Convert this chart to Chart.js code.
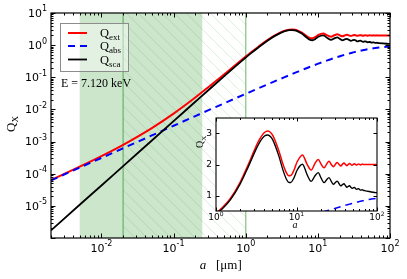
<!DOCTYPE html>
<html>
<head>
<meta charset="utf-8">
<script src="https://cdn.jsdelivr.net/npm/chart.js@4.4.0/dist/chart.umd.min.js"></script>
<style>
body { margin: 0; background: #fff; }
#wrap { position: relative; width: 407px; height: 279px; }
#main { position: absolute; left: 0; top: 0; }
#inset { position: absolute; left: 190px; top: 108px; }
</style>
</head>
<body>
<div id="wrap">
<canvas id="main" width="407" height="279"></canvas>
<canvas id="inset" width="200" height="125"></canvas>
</div>
<script>
// grain radius a [um]
var aSize = [0.002, 0.005, 0.01, 0.02, 0.05, 0.1, 0.2, 0.3, 0.5, 0.7,
  1, 1.2, 1.5, 2, 2.5, 3, 3.4, 4, 4.4, 4.8, 5.09, 6, 6.78, 7.5, 8, 8.47, 9.3,
  10.16, 11.85, 13.54, 15.23, 16.92, 18.61, 20.3, 21.98, 23.67, 25.36, 27.05,
  28.74, 30.43, 32.12, 33.81, 35.5, 37.19, 38.88, 40.56, 42.25, 43.94, 45.63,
  47.32, 49.01, 50.7, 52.39, 54.08, 55.77, 57.46, 59.14, 60.83, 62.52, 64.21,
  65.9, 67.6, 70, 80, 90, 100];

var qExt = [6.37e-5, 1.66e-4, 3.53e-4, 7.93e-4, 2.63e-3, 7.42e-3, 0.0235, 0.0482, 0.122, 0.229,
  0.44, 0.61, 0.895, 1.435, 1.981, 2.463, 2.767, 3.032, 3.078, 3.025, 2.932, 2.462, 2.015,
  1.729, 1.641, 1.646, 1.815, 2.080, 2.309, 2.007, 1.821, 2.027, 2.164, 2.004, 1.892, 2.013,
  2.101, 2.003, 1.929, 2.008, 2.068, 2.002, 1.951, 2.005, 2.048, 2.002, 1.965, 2.003, 2.035,
  2.001, 1.974, 2.002, 2.026, 2.001, 1.980, 2.001, 2.020, 2.001, 1.985, 2.001, 2.015, 2.001,
  2.0, 2.0, 2.0, 2.0];

var qAbs = [6.2e-5, 1.55e-4, 3.1e-4, 6.2e-4, 1.55e-3, 3.1e-3, 6.2e-3, 9.3e-3, 0.0154, 0.0215,
  0.0305, 0.0364, 0.0453, 0.0599, 0.0742, 0.0883, 0.0995, 0.1158, 0.1265, 0.1371, 0.1446,
  0.168, 0.1874, 0.2047, 0.217, 0.2276, 0.2464, 0.2655, 0.301, 0.335, 0.367, 0.398, 0.426,
  0.453, 0.479, 0.503, 0.526, 0.547, 0.568, 0.587, 0.606, 0.623, 0.639, 0.655, 0.670, 0.684,
  0.697, 0.710, 0.722, 0.733, 0.744, 0.755, 0.764, 0.774, 0.783, 0.791, 0.799, 0.807, 0.814,
  0.821, 0.828, 0.834, 0.842, 0.872, 0.895, 0.912];

var qSca = [1.72e-6, 1.08e-5, 4.3e-5, 1.73e-4, 1.08e-3, 4.32e-3, 0.0173, 0.0389, 0.107, 0.207,
  0.41, 0.575, 0.85, 1.375, 1.907, 2.375, 2.668, 2.916, 2.951, 2.888, 2.787, 2.294, 1.827,
  1.524, 1.424, 1.418, 1.569, 1.815, 2.008, 1.672, 1.454, 1.630, 1.737, 1.551, 1.413, 1.510,
  1.576, 1.456, 1.361, 1.421, 1.463, 1.379, 1.311, 1.350, 1.378, 1.318, 1.267, 1.293, 1.313,
  1.268, 1.230, 1.247, 1.262, 1.227, 1.197, 1.210, 1.221, 1.194, 1.171, 1.180, 1.187, 1.167,
  1.158, 1.128, 1.105, 1.088];

var seriesSub = ['ext', 'abs', 'sca'];
var energyText = 'E = 7.120 keV';

// shaded band, hatched band and marker lines (in um)
var greenBand = [0.005, 0.25];
var hatchBand = [0.02, 1];
var markLines = [0.02, 1];

// tick labels
var mainXExp = [-2, -1, 0, 1, 2];
var mainYExp = [-5, -4, -3, -2, -1, 0, 1];
var insetXExp = [0, 1, 2];
var insetYTicks = [1, 2, 3];

var SERIF = '"Liberation Serif", "DejaVu Serif", serif';
var SANS = '"DejaVu Sans", sans-serif';

function pts(arr) {
  return aSize.map(function (a, i) { return { x: a, y: arr[i] }; });
}

function makeSets(w) {
  var base = { pointRadius: 0, fill: false, cubicInterpolationMode: 'monotone' };
  return [
    Object.assign({ label: 'ext', data: pts(qExt), borderColor: '#ff0000', borderWidth: w, order: 3 }, base),
    Object.assign({ label: 'abs', data: pts(qAbs), borderColor: '#0000ff', borderWidth: w, borderDash: [7, 5], order: 2 }, base),
    Object.assign({ label: 'sca', data: pts(qSca), borderColor: '#000000', borderWidth: w * 0.9, order: 1 }, base)
  ];
}

function powLabel(ctx, x, y, e, size, align) {
  var sup = String(e);
  ctx.font = size + 'px ' + SANS;
  var w1 = ctx.measureText('10').width;
  var ss = Math.round(size * 0.7);
  ctx.font = ss + 'px ' + SANS;
  var w2 = ctx.measureText(sup).width;
  var x0 = align === 'right' ? x - w1 - w2 : x - (w1 + w2) / 2;
  ctx.fillStyle = '#000';
  ctx.textAlign = 'left';
  ctx.textBaseline = 'middle';
  ctx.font = size + 'px ' + SANS;
  ctx.fillText('10', x0, y);
  ctx.font = ss + 'px ' + SANS;
  ctx.fillText(sup, x0 + w1, y - size * 0.42);
}

function subText(ctx, x, y, main, sub, size, italic) {
  ctx.textAlign = 'left';
  ctx.textBaseline = 'alphabetic';
  ctx.font = (italic ? 'italic ' : '') + size + 'px ' + SERIF;
  ctx.fillText(main, x, y);
  var w = ctx.measureText(main).width;
  ctx.font = Math.round(size * 0.7) + 'px ' + SERIF;
  ctx.fillText(sub, x + w, y + size * 0.25);
  return w + ctx.measureText(sub).width;
}

function logTicks(ctx, sc, ca, horiz, lo, hi, maj, mnr) {
  var n0 = Math.floor(Math.log10(lo)), n1 = Math.ceil(Math.log10(hi));
  ctx.beginPath();
  for (var n = n0; n <= n1; n++) {
    for (var k = 1; k <= 9; k++) {
      var v = k * Math.pow(10, n);
      if (v < lo * 0.999 || v > hi * 1.001) continue;
      var p = Math.round(sc.getPixelForValue(v)) + 0.5;
      var len = k === 1 ? maj : mnr;
      if (horiz) {
        ctx.moveTo(p, ca.bottom); ctx.lineTo(p, ca.bottom - len);
        ctx.moveTo(p, ca.top); ctx.lineTo(p, ca.top + len);
      } else {
        ctx.moveTo(ca.left, p); ctx.lineTo(ca.left + len, p);
        ctx.moveTo(ca.right, p); ctx.lineTo(ca.right - len, p);
      }
    }
  }
  ctx.stroke();
}

var mainDeco = {
  id: 'mainDeco',
  beforeDatasetsDraw: function (chart) {
    var ctx = chart.ctx, ca = chart.chartArea, x = chart.scales.x;
    var H = ca.bottom - ca.top;
    ctx.save();
    var g0 = x.getPixelForValue(greenBand[0]), g1 = x.getPixelForValue(greenBand[1]);
    ctx.fillStyle = 'rgba(0,128,0,0.2)';
    ctx.fillRect(g0, ca.top, g1 - g0, H);

    var h0 = x.getPixelForValue(hatchBand[0]), h1 = x.getPixelForValue(hatchBand[1]);
    ctx.beginPath();
    ctx.rect(h0, ca.top, h1 - h0, H);
    ctx.clip();
    ctx.strokeStyle = 'rgba(0,128,0,0.18)';
    ctx.lineWidth = 0.8;
    ctx.beginPath();
    for (var s = h0 - H; s < h1; s += 12) {
      ctx.moveTo(s, ca.top);
      ctx.lineTo(s + H, ca.bottom);
    }
    ctx.stroke();
    ctx.restore();

    ctx.save();
    ctx.strokeStyle = 'rgba(0,128,0,0.4)';
    ctx.lineWidth = 1.5;
    markLines.forEach(function (v) {
      var p = x.getPixelForValue(v);
      ctx.beginPath();
      ctx.moveTo(p, ca.top);
      ctx.lineTo(p, ca.bottom);
      ctx.stroke();
    });
    ctx.restore();
  },
  afterDraw: function (chart) {
    var ctx = chart.ctx, ca = chart.chartArea, x = chart.scales.x, y = chart.scales.y;
    ctx.save();
    ctx.strokeStyle = '#000';
    ctx.lineWidth = 1;
    logTicks(ctx, x, ca, true, x.min, x.max, 4.5, 2.5);
    logTicks(ctx, y, ca, false, y.min, y.max, 4.5, 2.5);
    ctx.lineWidth = 1.2;
    ctx.strokeRect(ca.left, ca.top, ca.right - ca.left, ca.bottom - ca.top);

    mainXExp.forEach(function (e) {
      powLabel(ctx, x.getPixelForValue(Math.pow(10, e)), ca.bottom + 11, e, 11, 'center');
    });
    mainYExp.forEach(function (e) {
      powLabel(ctx, ca.left - 4, y.getPixelForValue(Math.pow(10, e)) + 1, e, 11, 'right');
    });

    // axis titles
    ctx.fillStyle = '#000';
    ctx.font = 'italic 13px ' + SERIF;
    ctx.textAlign = 'center';
    ctx.textBaseline = 'alphabetic';
    ctx.fillText('a', 203, 269);
    ctx.font = '13px ' + SERIF;
    ctx.textAlign = 'left';
    ctx.fillText('[\u03bcm]', 216, 269);

    ctx.save();
    ctx.translate(15, 132);
    ctx.rotate(-Math.PI / 2);
    subText(ctx, 0, 0, 'Q', 'X', 13, false);
    ctx.restore();

    // legend
    ctx.fillStyle = 'rgba(255,255,255,0.45)';
    ctx.fillRect(60.5, 23.5, 68, 48);
    ctx.strokeStyle = '#8c8c8c';
    ctx.lineWidth = 1;
    ctx.strokeRect(60.5, 23.5, 68, 48);
    var rows = [33, 46, 59.5];
    chart.data.datasets.forEach(function (ds, i) {
      ctx.save();
      ctx.strokeStyle = ds.borderColor;
      ctx.lineWidth = ds.borderWidth;
      ctx.setLineDash(ds.borderDash || []);
      ctx.beginPath();
      ctx.moveTo(68, rows[i]);
      ctx.lineTo(87, rows[i]);
      ctx.stroke();
      ctx.restore();
      ctx.fillStyle = '#000';
      subText(ctx, 100, rows[i] + 4, 'Q', seriesSub[i], 12.5, false);
    });

    ctx.fillStyle = '#000';
    ctx.font = '12px ' + SERIF;
    ctx.textAlign = 'left';
    ctx.textBaseline = 'alphabetic';
    ctx.fillText(energyText, 61, 87);
    ctx.restore();
  }
};

var insetDeco = {
  id: 'insetDeco',
  beforeDraw: function (chart) {
    var ctx = chart.ctx, ca = chart.chartArea;
    ctx.save();
    ctx.fillStyle = '#fff';
    ctx.fillRect(ca.left, ca.top, ca.right - ca.left, ca.bottom - ca.top);
    ctx.restore();
  },
  afterDraw: function (chart) {
    var ctx = chart.ctx, ca = chart.chartArea, x = chart.scales.x, y = chart.scales.y;
    ctx.save();
    ctx.strokeStyle = '#000';
    ctx.lineWidth = 1;
    logTicks(ctx, x, ca, true, x.min, x.max, 3.5, 2);
    ctx.beginPath();
    insetYTicks.forEach(function (v) {
      var p = Math.round(y.getPixelForValue(v)) + 0.5;
      ctx.moveTo(ca.left, p); ctx.lineTo(ca.left + 3.5, p);
      ctx.moveTo(ca.right, p); ctx.lineTo(ca.right - 3.5, p);
    });
    ctx.stroke();
    ctx.lineWidth = 1.1;
    ctx.strokeRect(ca.left, ca.top, ca.right - ca.left, ca.bottom - ca.top);

    insetXExp.forEach(function (e) {
      powLabel(ctx, x.getPixelForValue(Math.pow(10, e)), ca.bottom + 7, e, 9, 'center');
    });
    ctx.fillStyle = '#000';
    ctx.font = '9px ' + SANS;
    ctx.textAlign = 'right';
    ctx.textBaseline = 'middle';
    insetYTicks.forEach(function (v) {
      ctx.fillText(String(v), ca.left - 4, y.getPixelForValue(v));
    });

    ctx.font = 'italic 10px ' + SERIF;
    ctx.textAlign = 'center';
    ctx.textBaseline = 'alphabetic';
    ctx.fillText('a', 105, 120);

    ctx.save();
    ctx.translate(13, 40);
    ctx.rotate(-Math.PI / 2);
    subText(ctx, 0, 0, 'Q', 'X', 10, false);
    ctx.restore();
    ctx.restore();
  }
};

new Chart(document.getElementById('main'), {
  type: 'line',
  data: { datasets: makeSets(2) },
  options: {
    responsive: false,
    animation: false,
    devicePixelRatio: 1,
    layout: { padding: { left: 0, top: 13, right: 17, bottom: 0 } },
    plugins: { legend: { display: false }, tooltip: { enabled: false } },
    scales: {
      x: {
        type: 'logarithmic', min: 0.002, max: 100,
        grid: { display: false }, border: { display: false }, ticks: { display: false },
        afterFit: function (s) { s.height = 41; }
      },
      y: {
        type: 'logarithmic', min: 1e-6, max: 10,
        grid: { display: false }, border: { display: false }, ticks: { display: false },
        afterFit: function (s) { s.width = 51; }
      }
    }
  },
  plugins: [mainDeco]
});

new Chart(document.getElementById('inset'), {
  type: 'line',
  data: { datasets: makeSets(1.5) },
  options: {
    responsive: false,
    animation: false,
    devicePixelRatio: 1,
    layout: { padding: { left: 0, top: 10, right: 13, bottom: 0 } },
    plugins: { legend: { display: false }, tooltip: { enabled: false } },
    scales: {
      x: {
        type: 'logarithmic', min: 1, max: 100,
        grid: { display: false }, border: { display: false }, ticks: { display: false },
        afterFit: function (s) { s.height = 22; }
      },
      y: {
        type: 'linear', min: 0.5, max: 3.5,
        grid: { display: false }, border: { display: false }, ticks: { display: false },
        afterFit: function (s) { s.width = 26; }
      }
    }
  },
  plugins: [insetDeco]
});
</script>
</body>
</html>
